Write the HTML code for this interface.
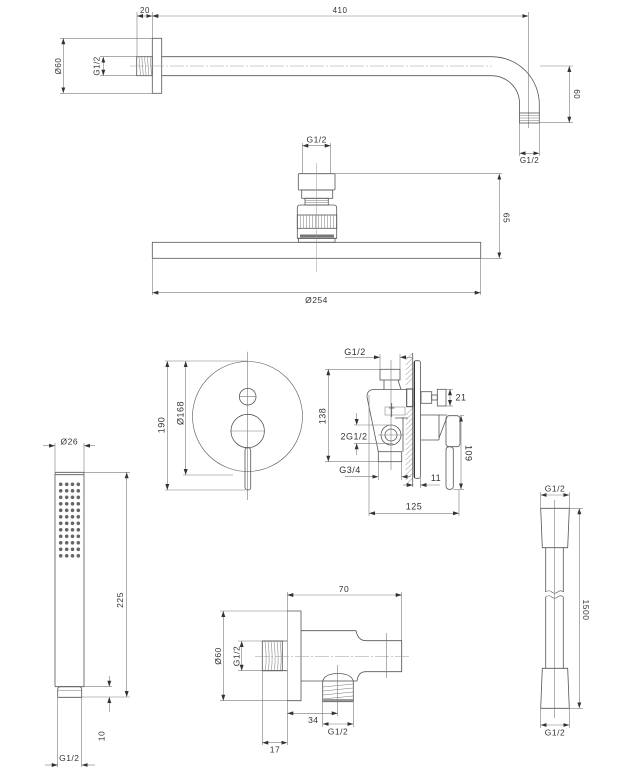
<!DOCTYPE html>
<html><head><meta charset="utf-8"><style>
html,body{margin:0;padding:0;background:#fff}
svg{display:block}
.d{stroke:#7a7a7a;stroke-width:.6;fill:none}
.b{stroke:#7a7a7a;stroke-width:.6;fill:none;marker-start:url(#a);marker-end:url(#a)}
.e{stroke:#7a7a7a;stroke-width:.6;fill:none;marker-end:url(#a)}
.o{stroke:#555;stroke-width:.8;fill:none}
.c{stroke:#999;stroke-width:.5;fill:none;stroke-dasharray:14 2 2 2}
.h{stroke:#777;stroke-width:.5;fill:none}
text{font-family:"Liberation Sans",sans-serif;fill:#333;text-anchor:middle;letter-spacing:.5px}
.t1{font-size:8px}
.t2{font-size:8.5px}
.t3{font-size:9px}
</style></head><body>
<svg width="619" height="767" viewBox="0 0 619 767" xmlns="http://www.w3.org/2000/svg">
<defs>
<marker id="a" viewBox="0 0 6 4" refX="6" refY="2" markerWidth="6" markerHeight="4" markerUnits="userSpaceOnUse" orient="auto-start-reverse"><path d="M0,0L6,2L0,4z" fill="#333"/></marker>
</defs>

<!-- ===== TOP SHOWER ARM ===== -->
<text class="t1" x="145" y="13">20</text>
<text class="t1" x="340" y="13">410</text>
<line class="b" x1="137" y1="16" x2="152.3" y2="16"/>
<line class="b" x1="152.3" y1="16" x2="528.3" y2="16"/>
<line class="d" x1="137" y1="12" x2="137" y2="57"/>
<line class="d" x1="152.3" y1="12" x2="152.3" y2="38"/>
<line class="d" x1="528.3" y1="12" x2="528.3" y2="128"/>
<rect class="o" x="152.3" y="38.3" width="9.4" height="55"/>
<line class="d" x1="60" y1="38.3" x2="152.3" y2="38.3"/>
<line class="d" x1="60" y1="93.3" x2="152.3" y2="93.3"/>
<line class="b" x1="63.3" y1="38.3" x2="63.3" y2="93.3"/>
<text class="t1" transform="translate(61,66) rotate(-90)">Ø60</text>
<line class="d" x1="100" y1="56.7" x2="137" y2="56.7"/>
<line class="d" x1="100" y1="75.7" x2="137" y2="75.7"/>
<line class="b" x1="103.3" y1="56.7" x2="103.3" y2="75.7"/>
<text class="t1" transform="translate(99.5,66) rotate(-90)">G1/2</text>
<rect class="o" x="136.7" y="56.7" width="15.6" height="19"/>
<path class="h" d="M139,57 L140.5,75.5 M141.8,57 L143.3,75.5 M144.6,57 L146.1,75.5 M147.4,57 L148.9,75.5 M150.2,57 L151.5,75.5"/>
<path class="o" d="M161.7,56.7 H491.7 A47.6,47.6 0 0 1 539.3,104.3 V113"/>
<path class="o" d="M161.7,75.7 H491.7 A27.8,27.8 0 0 1 519.5,103.5 V113"/>
<path class="c" d="M130,66 H491.7"/>
<rect class="o" x="519.5" y="113" width="19.8" height="10"/>
<path class="h" d="M519.5,115.5 H539.3 M519.5,118 H539.3 M519.5,120.5 H539.3"/>
<line class="d" x1="540" y1="66" x2="573" y2="66"/>
<line class="d" x1="540" y1="122.7" x2="573" y2="122.7"/>
<line class="b" x1="569.3" y1="66" x2="569.3" y2="122.7"/>
<text class="t1" transform="translate(574,94.3) rotate(90)">60</text>
<line class="d" x1="519.5" y1="123" x2="519.5" y2="156"/>
<line class="d" x1="539.3" y1="123" x2="539.3" y2="156"/>
<line class="b" x1="519.5" y1="153.3" x2="539.3" y2="153.3"/>
<text class="t1" x="529.5" y="163">G1/2</text>

<!-- ===== SHOWER HEAD ===== -->
<text class="t2" x="316.7" y="142.5">G1/2</text>
<line class="b" x1="302.3" y1="145.7" x2="330.7" y2="145.7"/>
<line class="d" x1="302.3" y1="143" x2="302.3" y2="173.7"/>
<line class="d" x1="330.7" y1="143" x2="330.7" y2="173.7"/>
<rect class="o" x="298.3" y="173.7" width="36.7" height="16.3" rx="1"/>
<rect class="o" x="301.7" y="190" width="31" height="8.3"/>
<rect class="o" x="305" y="198.3" width="23.3" height="6.7"/>
<path class="h" d="M305,200.5 H328.3 M305,202.7 H328.3"/>
<path class="o" d="M297.3,238.3 V208 Q297.3,205 300.3,205 H333.7 Q336.7,205 336.7,208 V238.3 Z"/>
<rect class="o" x="297.3" y="215" width="39.4" height="13.3"/>
<path class="h" d="M300.5,215V228.3M303.5,215V228.3M306.5,215V228.3M309.5,215V228.3M312.5,215V228.3M315.5,215V228.3M318.5,215V228.3M321.5,215V228.3M324.5,215V228.3M327.5,215V228.3M330.5,215V228.3M333.5,215V228.3"/>
<rect x="300" y="234.5" width="34" height="3" fill="#777"/>
<rect class="o" x="298.5" y="238.3" width="36.5" height="4"/>
<rect class="o" x="152.3" y="242.3" width="328.4" height="16"/>
<line class="c" x1="316.7" y1="163" x2="316.7" y2="272" style="stroke-dasharray:none"/>
<line class="d" x1="335" y1="173.7" x2="502" y2="173.7"/>
<line class="d" x1="480.7" y1="258.3" x2="502" y2="258.3"/>
<line class="b" x1="499.3" y1="173.7" x2="499.3" y2="258.3"/>
<text class="t2" transform="translate(503.5,218) rotate(90)">65</text>
<line class="d" x1="152.3" y1="258.3" x2="152.3" y2="295"/>
<line class="d" x1="480.7" y1="258.3" x2="480.7" y2="295"/>
<line class="b" x1="152.3" y1="292.7" x2="480.7" y2="292.7"/>
<text class="t2" x="316.5" y="303">Ø254</text>

<!-- ===== MIXER FRONT ===== -->
<line class="d" x1="247.7" y1="351.7" x2="247.7" y2="500"/>
<circle class="o" cx="247.5" cy="416.5" r="55" style="stroke-width:.6"/>
<circle class="o" cx="247.7" cy="396.7" r="8.3"/>
<line class="d" x1="239.4" y1="396.7" x2="256" y2="396.7"/>
<circle class="o" cx="247.7" cy="431" r="16.7"/>
<line class="d" x1="230" y1="431" x2="265" y2="431"/>
<rect class="o" x="245" y="447.7" width="5.7" height="42.3" rx="2.5" fill="#fff"/>
<line class="d" x1="165" y1="361" x2="247" y2="361"/>
<line class="d" x1="165" y1="490" x2="245" y2="490"/>
<line class="b" x1="167.3" y1="361" x2="167.3" y2="490"/>
<text class="t3" transform="translate(164.3,425) rotate(-90)">190</text>
<line class="d" x1="183" y1="475" x2="233" y2="475"/>
<line class="b" x1="185.7" y1="361" x2="185.7" y2="475"/>
<text class="t3" transform="translate(183.5,413) rotate(-90)">Ø168</text>

<!-- ===== MIXER SIDE ===== -->
<line class="o" x1="412.7" y1="353" x2="412.7" y2="486.7"/>
<path class="h" d="M412.7,353 L405.7,360 M412.7,358 L405.7,365 M412.7,363 L405.7,370 M412.7,368 L405.7,375 M412.7,373 L405.7,380 M412.7,378 L405.7,385 M412.7,408 L405.7,415 M412.7,413 L405.7,420 M412.7,418 L405.7,425 M412.7,423 L405.7,430 M412.7,428 L405.7,435 M412.7,433 L405.7,440 M412.7,438 L405.7,445 M412.7,443 L405.7,450 M412.7,448 L405.7,455 M412.7,453 L405.7,460 M412.7,458 L405.7,465 M412.7,463 L405.7,470 M412.7,468 L405.7,475 M412.7,473 L405.7,480 M412.7,478 L405.7,485"/>
<rect class="o" x="414" y="360.7" width="6.5" height="117.6" rx="2"/>
<line x1="414.5" y1="361" x2="414.5" y2="478" stroke="#333" stroke-width="1"/>
<rect class="o" x="380" y="369.3" width="20" height="10.7"/>
<path class="o" d="M384,380 V389.5 M398,380 L401,389.5"/>
<path class="o" d="M378.3,451.7 L367,397 Q367,389.5 374,389.5 H406.7"/>
<path class="o" d="M403,417 V451.7 M395,418 H408"/>
<rect x="406.7" y="389" width="6" height="17.7" fill="#fff" stroke="#444" stroke-width="1"/>
<rect class="h" x="385" y="407" width="20" height="8"/>
<path class="o" d="M391.7,403 V417 M389,408 H394.5"/>
<circle class="o" cx="391" cy="435" r="10"/>
<circle class="o" cx="391" cy="435" r="6"/>
<line class="d" x1="391" y1="360" x2="391" y2="470"/>
<line class="d" x1="378" y1="435" x2="404" y2="435"/>
<rect class="o" x="378.3" y="451.7" width="23.4" height="10"/>
<rect class="o" x="421" y="391.7" width="10.7" height="11.6"/>
<rect class="o" x="431.7" y="395" width="5.6" height="5"/>
<rect class="o" x="437.3" y="389.3" width="8.7" height="16.7"/>
<line class="d" x1="446" y1="389.3" x2="453" y2="389.3"/>
<line class="d" x1="446" y1="406" x2="453" y2="406"/>
<line class="b" x1="450" y1="389.3" x2="450" y2="406"/>
<text class="t3" x="461" y="400.5">21</text>
<path class="o" d="M421,415 H447 M421,440 H439 M439,415 V440 M439,438 L447,417"/>
<rect class="o" x="446" y="415.7" width="14" height="31" rx="3" fill="#fff"/>
<rect class="o" x="446" y="446.7" width="7.3" height="42.6" rx="3" fill="#fff"/>
<line class="d" x1="460" y1="415.7" x2="464" y2="415.7"/>
<line class="d" x1="453.3" y1="489.3" x2="464" y2="489.3"/>
<line class="b" x1="461" y1="415.7" x2="461" y2="489.3"/>
<text class="t3" transform="translate(465.5,453.3) rotate(90)">109</text>
<line class="e" x1="403" y1="485" x2="412.7" y2="485"/>
<line class="e" x1="440" y1="485" x2="420.5" y2="485"/>
<line class="d" x1="420.5" y1="478" x2="420.5" y2="488"/>
<text class="t3" x="436" y="481">11</text>
<line class="d" x1="325" y1="369.3" x2="380" y2="369.3"/>
<line class="d" x1="325" y1="461.7" x2="378" y2="461.7"/>
<line class="b" x1="328.3" y1="369.3" x2="328.3" y2="461.7"/>
<text class="t3" transform="translate(325.3,416) rotate(-90)">138</text>
<text class="t3" x="355" y="355">G1/2</text>
<line class="e" x1="345" y1="357.3" x2="380" y2="357.3"/>
<line class="e" x1="412" y1="357.3" x2="400" y2="357.3"/>
<line class="d" x1="380" y1="354" x2="380" y2="369"/>
<line class="d" x1="400" y1="354" x2="400" y2="369"/>
<line class="d" x1="354" y1="425" x2="393" y2="425"/>
<line class="d" x1="354" y1="443.3" x2="393" y2="443.3"/>
<line class="e" x1="356.7" y1="413" x2="356.7" y2="425"/>
<line class="e" x1="356.7" y1="455" x2="356.7" y2="443.3"/>
<text class="t3" x="354" y="439.7">2G1/2</text>
<text class="t3" x="350" y="473">G3/4</text>
<line class="e" x1="345" y1="476.7" x2="378.3" y2="476.7"/>
<line class="e" x1="411" y1="476.7" x2="401.7" y2="476.7"/>
<line class="d" x1="378.3" y1="461.7" x2="378.3" y2="480"/>
<line class="d" x1="401.7" y1="461.7" x2="401.7" y2="480"/>
<line class="d" x1="369" y1="395" x2="369" y2="516"/>
<line class="d" x1="459" y1="490" x2="459" y2="516"/>
<line class="b" x1="369" y1="513.3" x2="459" y2="513.3"/>
<text class="t3" x="414" y="509.5">125</text>

<!-- ===== HAND SHOWER ===== -->
<text class="t2" x="69.3" y="444.5">Ø26</text>
<line class="e" x1="43" y1="445.7" x2="55" y2="445.7"/>
<line class="e" x1="95" y1="445.7" x2="84" y2="445.7"/>
<line class="d" x1="55" y1="443" x2="55" y2="472"/>
<line class="d" x1="84" y1="443" x2="84" y2="472"/>
<rect class="o" x="55" y="472.3" width="29" height="214.4" rx="1"/>
<line class="o" x1="55" y1="474.7" x2="84" y2="474.7"/>
<g fill="#666">
<circle cx="60.7" cy="484.3" r="1.8"/><circle cx="66.7" cy="484.3" r="1.8"/><circle cx="72.5" cy="484.3" r="1.8"/><circle cx="78.3" cy="484.3" r="1.8"/>
<circle cx="60.7" cy="490.8" r="1.8"/><circle cx="66.7" cy="490.8" r="1.8"/><circle cx="72.5" cy="490.8" r="1.8"/><circle cx="78.3" cy="490.8" r="1.8"/>
<circle cx="60.7" cy="497.3" r="1.8"/><circle cx="66.7" cy="497.3" r="1.8"/><circle cx="72.5" cy="497.3" r="1.8"/><circle cx="78.3" cy="497.3" r="1.8"/>
<circle cx="60.7" cy="503.8" r="1.8"/><circle cx="66.7" cy="503.8" r="1.8"/><circle cx="72.5" cy="503.8" r="1.8"/><circle cx="78.3" cy="503.8" r="1.8"/>
<circle cx="60.7" cy="510.3" r="1.8"/><circle cx="66.7" cy="510.3" r="1.8"/><circle cx="72.5" cy="510.3" r="1.8"/><circle cx="78.3" cy="510.3" r="1.8"/>
<circle cx="60.7" cy="516.8" r="1.8"/><circle cx="66.7" cy="516.8" r="1.8"/><circle cx="72.5" cy="516.8" r="1.8"/><circle cx="78.3" cy="516.8" r="1.8"/>
<circle cx="60.7" cy="523.3" r="1.8"/><circle cx="66.7" cy="523.3" r="1.8"/><circle cx="72.5" cy="523.3" r="1.8"/><circle cx="78.3" cy="523.3" r="1.8"/>
<circle cx="60.7" cy="529.8" r="1.8"/><circle cx="66.7" cy="529.8" r="1.8"/><circle cx="72.5" cy="529.8" r="1.8"/><circle cx="78.3" cy="529.8" r="1.8"/>
<circle cx="60.7" cy="536.3" r="1.8"/><circle cx="66.7" cy="536.3" r="1.8"/><circle cx="72.5" cy="536.3" r="1.8"/><circle cx="78.3" cy="536.3" r="1.8"/>
<circle cx="60.7" cy="542.8" r="1.8"/><circle cx="66.7" cy="542.8" r="1.8"/><circle cx="72.5" cy="542.8" r="1.8"/><circle cx="78.3" cy="542.8" r="1.8"/>
<circle cx="60.7" cy="549.3" r="1.8"/><circle cx="66.7" cy="549.3" r="1.8"/><circle cx="72.5" cy="549.3" r="1.8"/><circle cx="78.3" cy="549.3" r="1.8"/>
<circle cx="60.7" cy="555.8" r="1.8"/><circle cx="66.7" cy="555.8" r="1.8"/><circle cx="72.5" cy="555.8" r="1.8"/><circle cx="78.3" cy="555.8" r="1.8"/>
</g>
<path class="o" d="M57.7,697.3 V689.7 Q57.7,686.7 60.7,686.7 H78.7 Q81.7,686.7 81.7,689.7 V697.3 Z"/>
<line class="h" x1="57.7" y1="690.5" x2="81.7" y2="690.5"/>
<line class="d" x1="84" y1="472.3" x2="130" y2="472.3"/>
<line class="d" x1="82" y1="697" x2="130" y2="697"/>
<line class="b" x1="126.7" y1="472.3" x2="126.7" y2="697"/>
<text class="t2" transform="translate(123,600) rotate(-90)">225</text>
<line class="d" x1="84" y1="686.7" x2="112" y2="686.7"/>
<line class="e" x1="109.3" y1="676" x2="109.3" y2="686.7"/>
<line class="e" x1="109.3" y1="712" x2="109.3" y2="697"/>
<text class="t2" transform="translate(104.5,736) rotate(-90)">10</text>
<line class="d" x1="57.7" y1="697" x2="57.7" y2="767"/>
<line class="d" x1="81.7" y1="697" x2="81.7" y2="767"/>
<line class="e" x1="45" y1="765" x2="57.7" y2="765"/>
<line class="e" x1="95" y1="765" x2="81.7" y2="765"/>
<text class="t2" x="69.3" y="761">G1/2</text>

<!-- ===== WALL CONNECTOR ===== -->
<text class="t2" x="344" y="592">70</text>
<line class="b" x1="287.3" y1="595" x2="401.7" y2="595"/>
<line class="d" x1="287.3" y1="592" x2="287.3" y2="745"/>
<line class="d" x1="401.7" y1="592" x2="401.7" y2="672"/>
<line class="d" x1="220" y1="611" x2="287.3" y2="611"/>
<line class="d" x1="220" y1="700.7" x2="287.3" y2="700.7"/>
<path class="o" d="M287.3,611 H301 V700.7 H287.3"/>
<line class="b" x1="223.3" y1="611" x2="223.3" y2="700.7"/>
<text class="t2" transform="translate(221,656) rotate(-90)">Ø60</text>
<line class="d" x1="238" y1="641" x2="262.3" y2="641"/>
<line class="d" x1="238" y1="670.7" x2="262.3" y2="670.7"/>
<path class="o" d="M262.3,641 H287.3 M262.3,670.7 H287.3"/>
<line class="b" x1="241.7" y1="641" x2="241.7" y2="670.7"/>
<text class="t2" transform="translate(239.5,656) rotate(-90)">G1/2</text>
<rect class="o" x="262.3" y="641" width="20" height="29.7"/>
<path class="h" d="M265,641.5 Q267,656 265.5,670 M268,641.5 Q270,656 268.5,670 M271,641.5 Q273,656 271.5,670 M274,641.5 Q276,656 274.5,670 M277,641.5 Q279,656 277.5,670 M280,641.5 Q282,656 280.5,670"/>
<path class="o" d="M301,630.7 H356 Q358,640.7 366,640.7 H401.7 V671.7 H366 Q358,671.7 357,681 H353.3 Q351,673.5 338,673.5 Q325,673.5 322.7,681 H301"/>
<rect class="o" x="322.7" y="681" width="30.6" height="20.7"/>
<path class="h" d="M323,687 L353,684 M323,691 L353,688 M323,695 L353,692 M323,699 L353,696"/>
<rect x="323" y="699" width="30" height="2.5" fill="#999"/>
<line class="d" x1="337.7" y1="665" x2="337.7" y2="716"/>
<line class="c" x1="255" y1="656.7" x2="410" y2="656.7"/>
<line class="d" x1="386.7" y1="633" x2="386.7" y2="678"/>
<line class="b" x1="287.3" y1="713.3" x2="337.7" y2="713.3"/>
<text class="t2" x="313.3" y="723">34</text>
<line class="d" x1="322.7" y1="701.7" x2="322.7" y2="727"/>
<line class="d" x1="353.3" y1="701.7" x2="353.3" y2="727"/>
<line class="b" x1="322.7" y1="724" x2="353.3" y2="724"/>
<text class="t2" x="338" y="734.5">G1/2</text>
<line class="d" x1="262.3" y1="670.7" x2="262.3" y2="745"/>
<line class="b" x1="262.3" y1="742.7" x2="287.3" y2="742.7"/>
<text class="t2" x="275" y="752.5">17</text>

<!-- ===== HOSE ===== -->
<text class="t2" x="555" y="491.5">G1/2</text>
<line class="b" x1="540.7" y1="495" x2="569.3" y2="495"/>
<line class="d" x1="540.7" y1="492" x2="540.7" y2="508.3"/>
<line class="d" x1="569.3" y1="492" x2="569.3" y2="508.3"/>
<path class="o" d="M540.7,508.3 H569.3 L567.7,547.7 H542.3 Z"/>
<path class="o" d="M545.7,547.7 V592 M563.3,547.7 V592 M545.7,597 V668.3 M563.3,597 V668.3"/>
<path class="o" d="M545.7,592 Q548.7,589.5 551.7,592 T557.7,592 T563.3,592 M545.7,597 Q548.7,594.5 551.7,597 T557.7,597 T563.3,597" style="stroke-width:.6"/>
<path class="o" d="M542.3,668.3 H567.7 L569.3,708.3 H540.7 Z"/>
<line class="d" x1="554.3" y1="500" x2="554.3" y2="718"/>
<line class="d" x1="569.3" y1="508.3" x2="583" y2="508.3"/>
<line class="d" x1="569.3" y1="708.3" x2="583" y2="708.3"/>
<line class="b" x1="579.3" y1="508.3" x2="579.3" y2="708.3"/>
<text class="t2" transform="translate(583,610) rotate(90)">1500</text>
<line class="d" x1="540.7" y1="708.3" x2="540.7" y2="728"/>
<line class="d" x1="569.3" y1="708.3" x2="569.3" y2="728"/>
<line class="b" x1="540.7" y1="725" x2="569.3" y2="725"/>
<text class="t2" x="555" y="735.5">G1/2</text>
</svg>
</body></html>
